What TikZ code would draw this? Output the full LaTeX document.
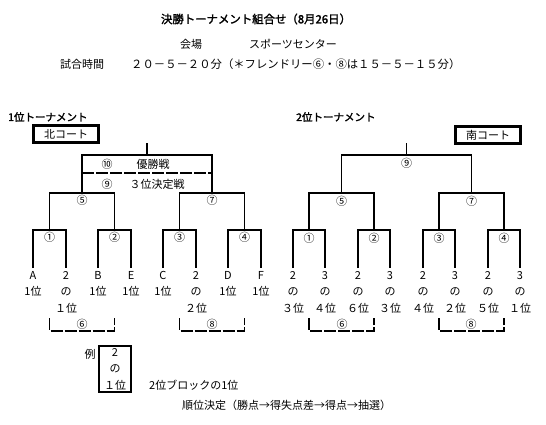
\documentclass[tikz,border=0pt]{standalone}
\usepackage{fontspec}
\usetikzlibrary{positioning}
\newfontfamily\jp{Noto Sans CJK JP}
\newfontfamily\jpbold[FakeBold=2]{Noto Sans CJK JP}
\tikzset{
  txt/.style={font=\jp\fontsize{11}{13}\selectfont,inner sep=0pt},
  titletxt/.style={font=\jpbold\fontsize{11.4}{14}\selectfont,inner sep=0pt},
  headtxt/.style={font=\jpbold\fontsize{10.5}{12}\selectfont,inner sep=0pt,anchor=west},
  leaf/.style={txt,font=\jp\fontsize{11}{16.5}\selectfont,align=center},
  courtbox/.style={draw,line width=2.2pt,txt,minimum width=65pt,minimum height=17pt},
  exbox/.style={leaf,draw,line width=2.2pt,minimum width=32pt,minimum height=46pt},
  bracket/.style={line width=1.2pt},
  pairline/.style={line width=1.7pt,dash pattern=on 12pt off 2pt}
}

\begin{document}
\begin{tikzpicture}[x=1pt,y=-1pt]
\useasboundingbox (0,0) rectangle (546,425);
% header
\node[titletxt] (title) at (256,19) {決勝トーナメント組合せ（8月26日）};
\node[txt] (venue) at (191,44) {会場};
\node[txt,anchor=west] (venuename) at (249,44) {スポーツセンター};
\node[txt,anchor=west] (time) at (60,64) {試合時間};
\node[txt,anchor=west,font=\jp\fontsize{11.35}{13}\selectfont] (timetxt) at (131,64)
  {２０－５－２０分（＊フレンドリー⑥・⑧は１５－５－１５分）};

% 1位トーナメント
\node[headtxt] (head1) at (8,117) {1位トーナメント};
\node[courtbox] (north) at (66,134) {北コート};
\foreach \x [count=\i] in {33,66,98,131,163,196,228,261}
  \coordinate (L\i) at (\x,268);
\foreach \i/\x in {1/49.5,2/114.5,3/179.5,4/244.5}
  \coordinate (a\i) at (\x,230);
\coordinate (a5) at (82,193);
\coordinate (a7) at (212,193);
\coordinate (a10) at (147,155);
\coordinate (top1) at (147,143);
\foreach \i/\j/\k in {1/1/2,2/3/4,3/5/6,4/7/8}
  \draw[bracket] (L\j) |- (a\i) -| (L\k);
\draw[bracket] (a1) |- (a5) -| (a2);
\draw[bracket] (a3) |- (a7) -| (a4);
\draw[bracket] (a5) |- (a10) -| (a7);
\draw[bracket] (a10) -- (top1);
\coordinate (sepl) at (82,173);
\coordinate (sepr) at (212,173);
\draw[pairline] (sepl) -- (sepr);
\foreach \i/\c in {1/①,2/②,3/③,4/④,5/⑤,7/⑦}
  \node[txt,below=2pt of a\i] (na\i) {\c};
\node[txt] (na10) at (107,164) {⑩};
\node[txt] (final) at (153,164) {優勝戦};
\node[txt] (na9) at (107,184) {⑨};
\node[txt] (third) at (157,184) {３位決定戦};
\foreach \i/\t in {1/{A\\1位},2/{2\\の\\１位},3/{B\\1位},4/{E\\1位},
    5/{C\\1位},6/{2\\の\\２位},7/{D\\1位},8/{F\\1位}}
  \node[leaf,below=3pt of L\i] (tl\i) {\t};
\coordinate (fa6) at (82,331);
\coordinate (fa8) at (212,331);
\draw[pairline] (a1 |- 0,318) |- (fa6) -| (a2 |- 0,318);
\draw[pairline] (a3 |- 0,318) |- (fa8) -| (a4 |- 0,318);
\node[txt,above=1pt of fa6] (nfa6) {⑥};
\node[txt,above=1pt of fa8] (nfa8) {⑧};

% 2位トーナメント
\node[headtxt] (head2) at (296,117) {2位トーナメント};
\node[courtbox] (south) at (488,135) {南コート};
\foreach \x [count=\i] in {293,325,358,390,423,455,488,520}
  \coordinate (R\i) at (\x,268);
\foreach \i/\x in {1/309,2/374,3/439,4/504}
  \coordinate (b\i) at (\x,230);
\coordinate (b5) at (341.5,193);
\coordinate (b7) at (471.5,193);
\coordinate (b9) at (406.5,155);
\coordinate (top2) at (406.5,143);
\foreach \i/\j/\k in {1/1/2,2/3/4,3/5/6,4/7/8}
  \draw[bracket] (R\j) |- (b\i) -| (R\k);
\draw[bracket] (b1) |- (b5) -| (b2);
\draw[bracket] (b3) |- (b7) -| (b4);
\draw[bracket] (b5) |- (b9) -| (b7);
\draw[bracket] (b9) -- (top2);
\foreach \i/\c in {1/①,2/②,3/③,4/④,5/⑤,7/⑦,9/⑨}
  \node[txt,below=3pt of b\i] (nb\i) {\c};
\foreach \i/\t in {1/{2\\の\\３位},2/{3\\の\\４位},3/{2\\の\\６位},4/{3\\の\\３位},
    5/{2\\の\\４位},6/{3\\の\\２位},7/{2\\の\\５位},8/{3\\の\\１位}}
  \node[leaf,below=3pt of R\i] (tr\i) {\t};
\coordinate (fb6) at (342,331);
\coordinate (fb8) at (471,331);
\draw[pairline] (b1 |- 0,318) |- (fb6) -| (b2 |- 0,318);
\draw[pairline] (b3 |- 0,318) |- (fb8) -| (b4 |- 0,318);
\node[txt,above=1pt of fb6] (nfb6) {⑥};
\node[txt,above=1pt of fb8] (nfb8) {⑧};

% legend
\node[exbox] (ex) at (115,369) {2\\の\\１位};
\node[txt,anchor=north east] (rei) at ([xshift=-2pt,yshift=-4pt]ex.north west) {例};
\node[txt,anchor=west] (exnote) at (149,385) {2位ブロックの1位};
\node[txt,anchor=west] (rule) at (182,405) {順位決定（勝点→得失点差→得点→抽選）};
\end{tikzpicture}
\end{document}
